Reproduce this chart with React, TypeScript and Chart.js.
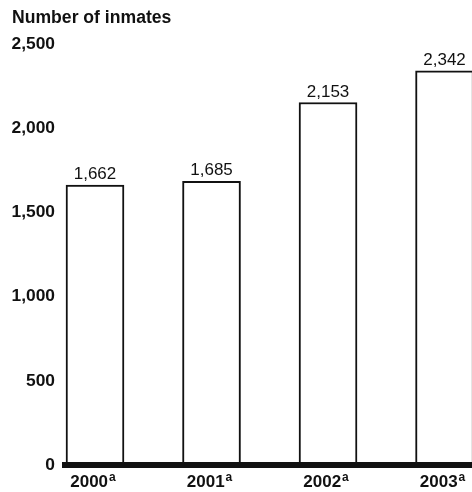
import React, { useEffect, useRef } from "react";
import { Chart, registerables } from "chart.js";

Chart.register(...registerables);

const years = ["2000", "2001", "2002", "2003"];
const yearNote = "a";
const inmates = [1662, 1685, 2153, 2342];
const yTicks = [0, 500, 1000, 1500, 2000, 2500];
const titleText = "Number of inmates";

const FONT = "'Liberation Sans', Arial, Helvetica, sans-serif";

export default function App() {
  const ref = useRef<HTMLCanvasElement>(null);

  useEffect(() => {
    const canvas = ref.current;
    if (!canvas) return;

    const valueLabels = {
      id: "valueLabels",
      afterDatasetsDraw(chart: any) {
        const ctx = chart.ctx;
        const meta = chart.getDatasetMeta(0);
        ctx.save();
        ctx.font = `17px ${FONT}`;
        ctx.fillStyle = "#111";
        ctx.textAlign = "center";
        ctx.textBaseline = "alphabetic";
        meta.data.forEach((el: any, i: number) => {
          ctx.fillText(inmates[i].toLocaleString("en-US"), el.x, el.y - 6);
        });
        ctx.restore();
      },
    };

    const yearLabels = {
      id: "yearLabels",
      afterDraw(chart: any) {
        const ctx = chart.ctx;
        const xs = chart.scales.x;
        ctx.save();
        ctx.fillStyle = "#111";
        ctx.textBaseline = "alphabetic";
        ctx.textAlign = "left";
        years.forEach((yr, i) => {
          const cx = xs.getPixelForValue(i);
          ctx.font = `bold 17px ${FONT}`;
          const w1 = ctx.measureText(yr).width;
          ctx.font = `bold 12px ${FONT}`;
          const w2 = ctx.measureText(yearNote).width;
          const left = cx - (w1 + 1 + w2) / 2 - 2;
          ctx.font = `bold 17px ${FONT}`;
          ctx.fillText(yr, left, xs.top + 21.5);
          ctx.font = `bold 12px ${FONT}`;
          ctx.fillText(yearNote, left + w1 + 1, xs.top + 15.5);
        });
        ctx.restore();
      },
    };

    const chart = new Chart(canvas, {
      type: "bar",
      data: {
        datasets: [
          {
            data: inmates.map((v, i) => ({ x: i, y: v })),
            backgroundColor: "#ffffff",
            borderColor: "#111111",
            borderWidth: 2,
            barThickness: 58,
          },
        ],
      },
      options: {
        animation: false,
        responsive: false,
        layout: { padding: { left: 12, right: 0, top: 0, bottom: 0 } },
        plugins: {
          legend: { display: false },
          tooltip: { enabled: false },
          title: {
            display: true,
            text: titleText,
            align: "start",
            color: "#111",
            font: { family: FONT, size: 17.6, weight: "bold" },
            padding: { top: 8, bottom: 15 },
          },
        },
        scales: {
          x: {
            type: "linear",
            offset: false,
            min: -0.2575,
            max: 3.476,
            grid: { display: false, offset: false, drawTicks: false, tickLength: 0 },
            border: { display: true, color: "#111", width: 6, z: 1 },
            afterBuildTicks: (s: any) => {
              s.ticks = years.map((_, i) => ({ value: i }));
            },
            afterFit: (s: any) => {
              s.height = 27;
            },
            ticks: { display: false },
          },
          y: {
            min: 0,
            max: 2500,
            grid: { display: false, drawTicks: false, tickLength: 0 },
            border: { display: false },
            afterBuildTicks: (s: any) => {
              s.ticks = yTicks.map((v) => ({ value: v }));
            },
            afterFit: (s: any) => {
              s.width = 53;
            },
            ticks: {
              padding: 10,
              color: "#111",
              callback: (v: any) => Number(v).toLocaleString("en-US"),
              font: { family: FONT, size: 17.4, weight: "bold" },
            },
          },
        },
      },
      plugins: [valueLabels, yearLabels],
    } as any);

    return () => chart.destroy();
  }, []);

  return (
    <div
      style={{
        position: "absolute",
        left: 0,
        top: 0,
        width: 472,
        height: 492,
        overflow: "hidden",
        background: "#fff",
      }}
    >
      <canvas ref={ref} width={500} height={492} style={{ display: "block" }} />
    </div>
  );
}
